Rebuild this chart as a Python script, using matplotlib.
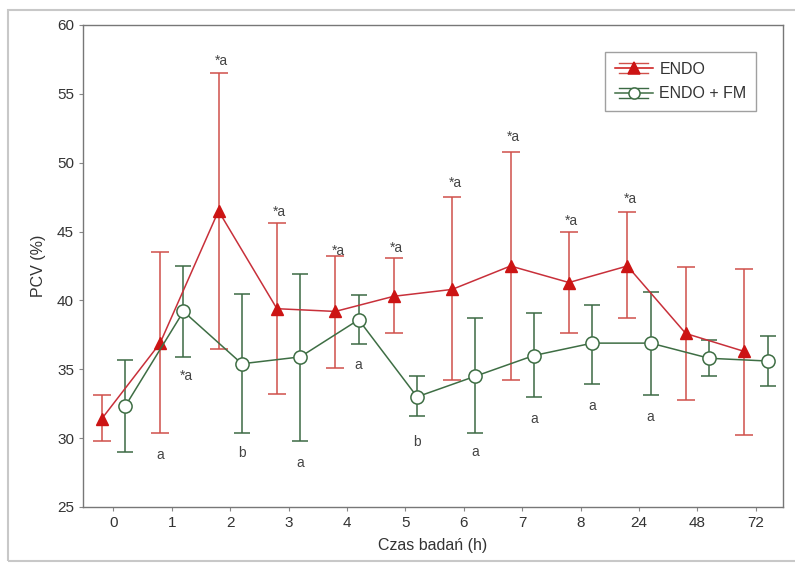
import matplotlib
matplotlib.use("Agg")
import matplotlib.pyplot as plt
from matplotlib.lines import Line2D
from matplotlib.patches import Rectangle
from matplotlib.legend_handler import HandlerBase
import numpy as np

plt.rcParams['font.family'] = ['Liberation Sans', 'DejaVu Sans']

# ---- data ----
categories = ["0", "1", "2", "3", "4", "5", "6", "7", "8", "24", "48", "72"]

endo_mean = [31.4, 36.9, 46.5, 39.4, 39.2, 40.3, 40.8, 42.5, 41.3, 42.5, 37.6, 36.3]
endo_top = [33.1, 43.5, 56.5, 45.6, 43.2, 43.1, 47.5, 50.8, 45.0, 46.4, 42.4, 42.3]
endo_bot = [29.8, 30.4, 36.5, 33.2, 35.1, 37.6, 34.2, 34.2, 37.6, 38.7, 32.8, 30.2]

fm_mean = [32.3, 39.2, 35.4, 35.9, 38.6, 33.0, 34.5, 36.0, 36.9, 36.9, 35.8, 35.6]
fm_top = [35.7, 42.5, 40.5, 41.9, 40.4, 34.5, 38.7, 39.1, 39.7, 40.6, 37.1, 37.4]
fm_bot = [29.0, 35.9, 30.4, 29.8, 36.8, 31.6, 30.4, 33.0, 33.9, 33.1, 34.5, 33.8]

# annotation labels: series, category index, text, y value
ann_series = ["endo", "endo", "endo", "endo", "endo", "endo", "endo", "endo",
              "fm", "endo", "fm", "fm", "fm", "fm", "fm", "fm", "fm", "fm"]
ann_index = [2, 3, 4, 5, 6, 7, 8, 9,
             1, 1, 2, 3, 4, 5, 6, 7, 8, 9]
ann_text = ["*a", "*a", "*a", "*a", "*a", "*a", "*a", "*a",
            "*a", "a", "b", "a", "a", "b", "a", "a", "a", "a"]
ann_y = [57.4, 46.4, 43.6, 43.8, 48.5, 51.9, 45.8, 47.4,
         34.5, 28.8, 28.9, 28.2, 35.3, 29.7, 29.0, 31.4, 32.3, 31.5]

# ---- figure ----
fig = plt.figure(figsize=(7.95, 5.65), dpi=100)
ax = fig.add_axes([83/795, 1-507/565, 700/795, 482/565])

x = np.arange(len(categories))
off = 0.2
red_line = "#c8303a"
red_fill = "#cc1414"
red_err = "#d0504a"
green_line = "#3e6e44"
green_err = "#3c6a44"

endo_x = x - off
fm_x = x + off

endo_err = [np.array(endo_mean) - np.array(endo_bot), np.array(endo_top) - np.array(endo_mean)]
fm_err = [np.array(fm_mean) - np.array(fm_bot), np.array(fm_top) - np.array(fm_mean)]

ax.errorbar(endo_x, endo_mean, yerr=endo_err, fmt='none', ecolor=red_err,
            elinewidth=1.1, capsize=6.5, capthick=1.1, zorder=2)
ax.plot(endo_x, endo_mean, color=red_line, lw=1.1, marker='^', ms=9,
        mfc=red_fill, mec=red_fill, zorder=4)

ax.errorbar(fm_x, fm_mean, yerr=fm_err, fmt='none', ecolor=green_err,
            elinewidth=1.1, capsize=6, capthick=1.1, zorder=2)
ax.plot(fm_x, fm_mean, color=green_line, lw=1.1, marker='o', ms=9.5,
        mfc='white', mec=green_line, mew=1.1, zorder=5)

for s, i, t, yv in zip(ann_series, ann_index, ann_text, ann_y):
    xx = i - off if s == "endo" else i + off
    ax.text(xx + (0.05 if t.startswith("*") else 0.0), yv, t, ha='center', va='center',
            fontsize=10, color='#444444', zorder=6)

ax.set_xlim(-0.52, 11.465)
ax.set_ylim(25, 60)
ax.set_xticks(x)
ax.set_xticklabels(categories)
ax.set_yticks(np.arange(25, 61, 5))
ax.tick_params(axis='both', direction='out', length=3, width=0.8,
               colors='#888888', labelcolor='#333333', labelsize=11)
for sp in ax.spines.values():
    sp.set_color('#777777')
    sp.set_linewidth(1.0)

ax.set_ylabel("PCV (%)", fontsize=11.5, color='#333333', labelpad=8)
ax.set_xlabel("Czas badań (h)", fontsize=11.5, color='#333333', labelpad=6)


class HandlerCapLine(HandlerBase):
    """Line with marker plus short horizontal caps above and below."""
    def __init__(self, color, ecolor, marker, mfc, ms):
        super().__init__()
        self.color, self.ecolor, self.marker, self.mfc, self.ms = color, ecolor, marker, mfc, ms

    def create_artists(self, legend, orig_handle, xdescent, ydescent, width, height,
                       fontsize, trans):
        yc = height / 2 - ydescent
        xc = width / 2 - xdescent
        d = height * 0.45
        artists = [
            Line2D([-xdescent, width - xdescent], [yc, yc], color=self.color, lw=1.1,
                   transform=trans),
            Line2D([xc - width * 0.38, xc + width * 0.38], [yc + d, yc + d],
                   color=self.ecolor, lw=1.0, transform=trans),
            Line2D([xc - width * 0.38, xc + width * 0.38], [yc - d, yc - d],
                   color=self.ecolor, lw=1.0, transform=trans),
            Line2D([xc], [yc], marker=self.marker, ms=self.ms, mfc=self.mfc,
                   mec=self.color, mew=1.1, ls='none', transform=trans),
        ]
        return artists


h1 = Line2D([], [], color=red_line)
h2 = Line2D([], [], color=green_line)
leg = ax.legend([h1, h2], ["ENDO", "ENDO + FM"], loc='upper left',
                bbox_to_anchor=((605-83)/700, (507-52)/482), borderaxespad=0,
                fontsize=11.5, fancybox=False, frameon=True, handlelength=2.4,
                borderpad=0.6, labelspacing=0.6, handletextpad=0.4,
                handler_map={h1: HandlerCapLine(red_fill, red_err, '^', red_fill, 9),
                             h2: HandlerCapLine(green_line, green_err, 'o', 'white', 8)})
leg.get_frame().set_edgecolor('#888888')
leg.get_frame().set_linewidth(1.0)
for t in leg.get_texts():
    t.set_color('#333333')

# outer scanned-page border
fig.patches.append(Rectangle((8/795, 1-561/565), (800-8)/795, (561-10)/565,
                             transform=fig.transFigure, fill=False,
                             edgecolor='#c8c8c8', lw=1.5))

fig.savefig("out.png", dpi=100)
